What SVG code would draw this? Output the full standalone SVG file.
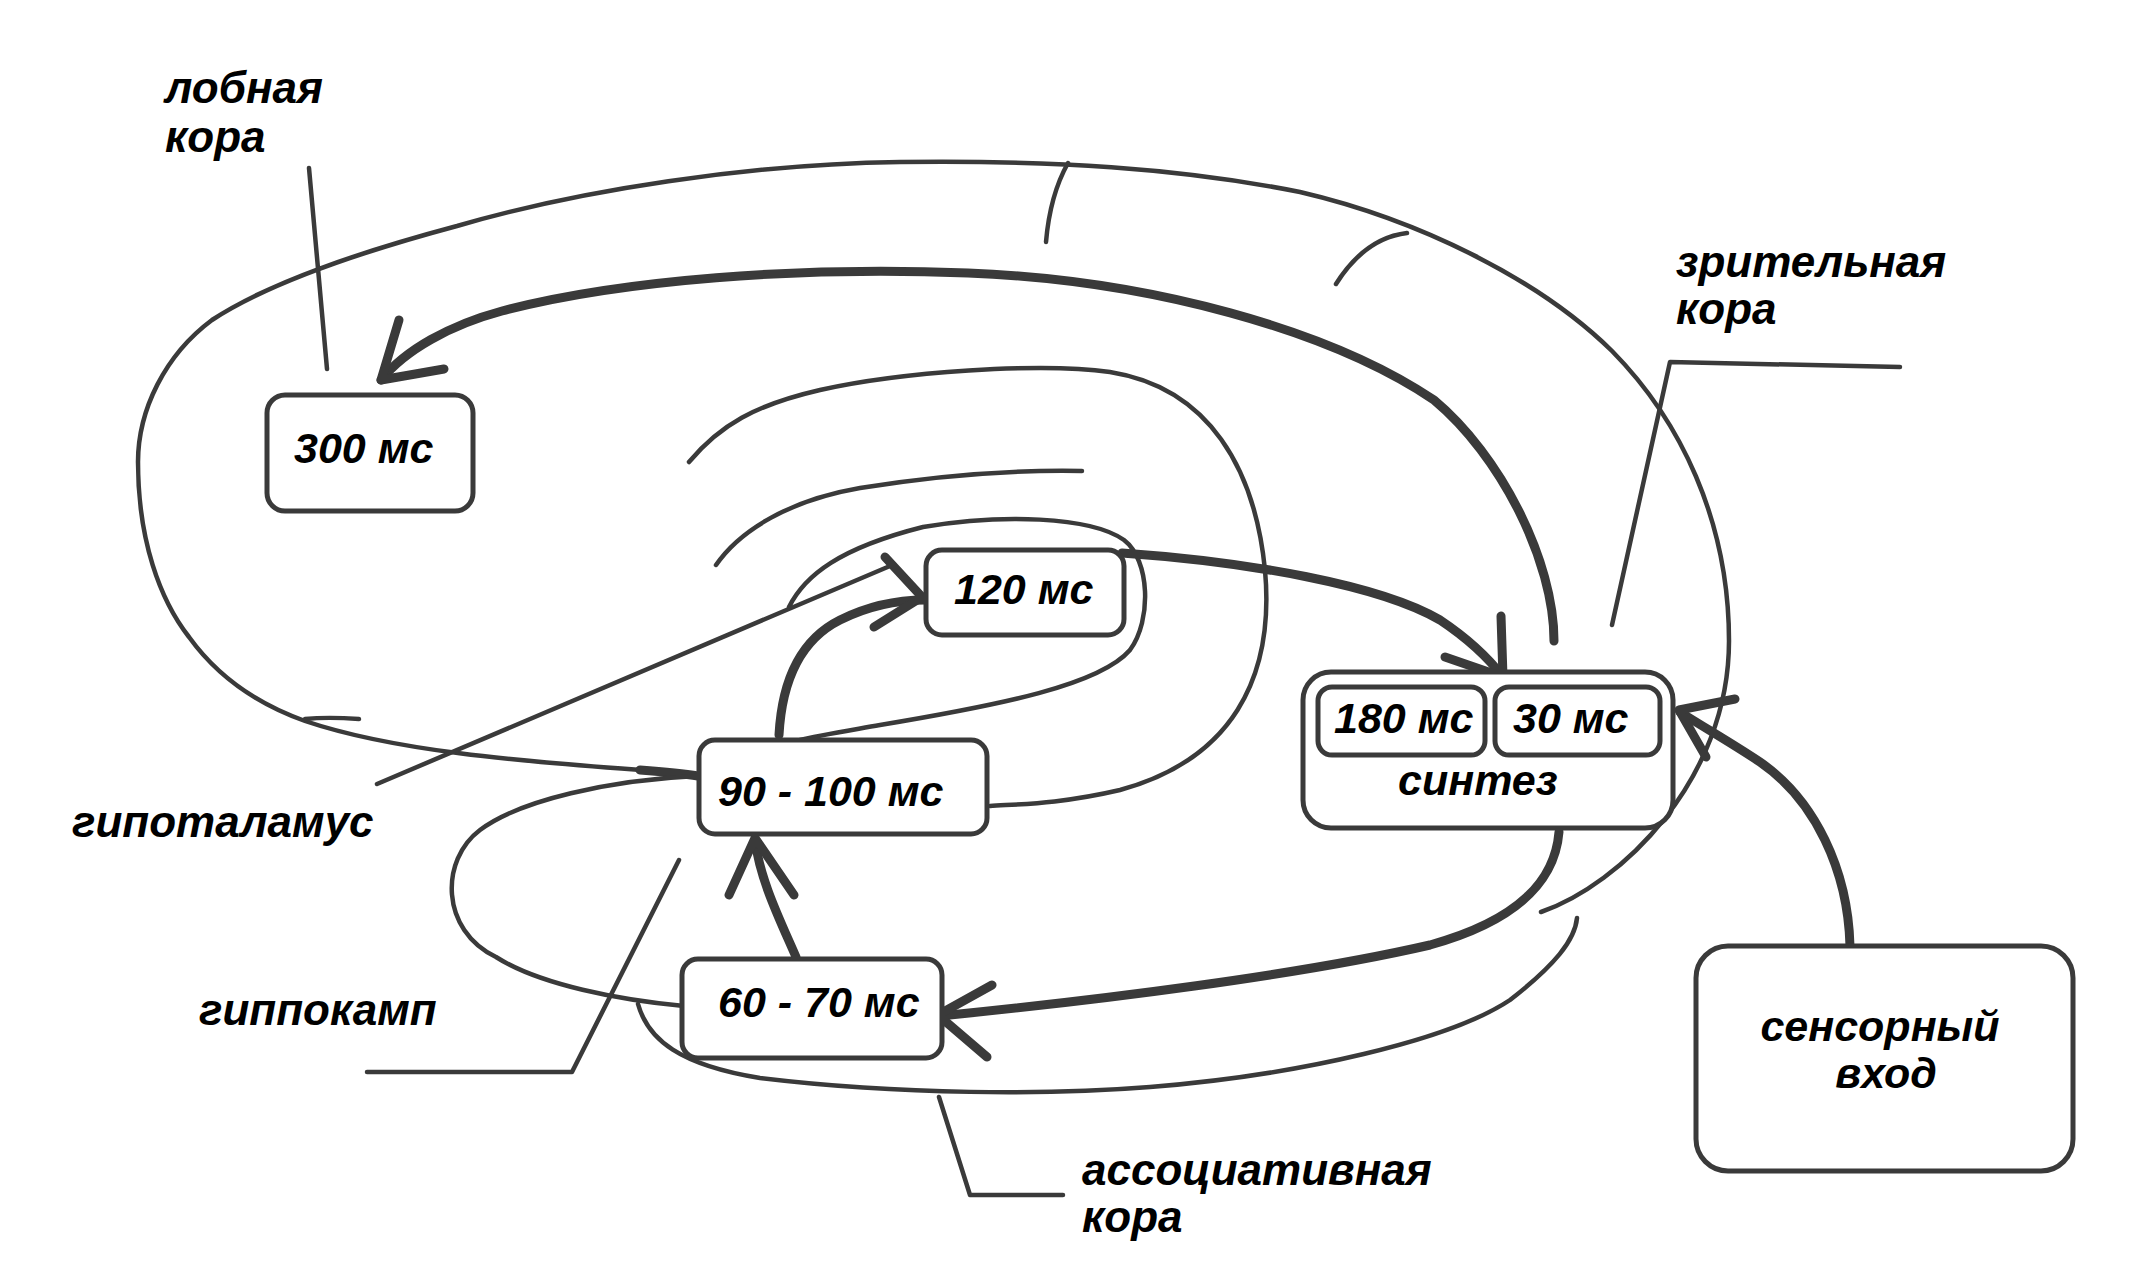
<svg xmlns="http://www.w3.org/2000/svg" width="2149" height="1285" viewBox="0 0 2149 1285">
<style>
.bg{fill:#ffffff}
.box{fill:#ffffff;stroke:#3a3a3a;stroke-width:5}
.thin{fill:none;stroke:#3a3a3a;stroke-width:4.5;stroke-linecap:round;stroke-linejoin:round}
.thick{fill:none;stroke:#3a3a3a;stroke-width:9;stroke-linecap:round;stroke-linejoin:round}
.t{font-family:"Liberation Sans",Arial,sans-serif;font-weight:bold;font-style:italic;fill:#000000}
.bt{font-size:43px}
.lt{font-size:44px}
</style>
<rect class="bg" x="0" y="0" width="2149" height="1285"/>
<g id="connectors">
  <!-- outer brain outline -->
  <path class="thin" d="M1541,912 C1620,885 1729,780 1729,641 C1729,520 1680,420 1612,351 C1540,280 1420,220 1300,192 C1180,168 1050,160 900,162 C750,164 580,190 457,226 C360,252 270,282 212,320 C165,355 138,410 138,462 C138,540 160,600 189,637 C220,680 260,705 305,721 C420,760 600,765 698,775"/>
  <path class="thin" d="M305,719 C325,717 345,718 359,719"/>
  <path class="thick" d="M640,770 C665,772 685,774 698,776"/>
  <!-- small branches on top -->
  <path class="thin" d="M1068,163 Q1050,195 1046,242"/>
  <path class="thin" d="M1407,233 Q1365,238 1336,284"/>
  <!-- inner arcs -->
  <path class="thin" d="M689,462 C720,425 755,405 820,390 C900,372 1040,362 1110,372 C1210,388 1255,470 1265,570 C1275,680 1230,760 1120,790 C1060,804 1020,804 990,806"/>
  <path class="thin" d="M716,565 C740,530 790,500 860,488 C960,472 1030,470 1082,471"/>
  <path class="thin" d="M789,607 C805,575 840,548 923,527 C1000,514 1090,516 1124,540 C1150,560 1152,620 1130,650 C1100,685 1000,705 880,725 C840,732 815,736 800,740"/>
  <!-- hippocampus loop -->
  <path class="thin" d="M697,776 C610,780 520,800 480,830 C440,860 440,930 496,957 C540,985 620,1000 684,1006"/>
  <!-- association cortex arc -->
  <path class="thin" d="M638,1004 C648,1040 680,1065 760,1078 C900,1095 1050,1095 1150,1087 C1300,1075 1450,1040 1510,1000 C1555,965 1575,940 1577,918"/>
  <!-- label pointers -->
  <path class="thin" d="M309,168 L327,369"/>
  <path class="thin" d="M1900,367 L1670,362 L1612,625"/>
  <path class="thin" d="M377,784 L890,566"/>
  <path class="thin" d="M367,1072 L572,1072 L679,860"/>
  <path class="thin" d="M939,1097 L970,1195 L1063,1195"/>
  <!-- thick arrows -->
  <path class="thick" d="M1554,641 C1554,560 1500,455 1434,400 C1330,330 1150,280 968,273 C800,266 620,280 502,311 C450,325 405,350 381,380"/>
  <path class="thick" d="M399,320 L381,380 L444,369"/>
  <path class="thick" d="M1122,553 C1250,562 1380,585 1440,620 C1470,640 1490,660 1503,677"/>
  <path class="thick" d="M1501,616 L1503,677 L1445,657"/>
  <path class="thick" d="M1850,946 C1848,870 1815,800 1760,762 C1730,742 1700,725 1680,712"/>
  <path class="thick" d="M1735,699 L1679,710 L1706,757"/>
  <path class="thick" d="M1559,832 C1555,880 1520,920 1430,945 C1300,975 1100,1000 940,1016"/>
  <path class="thick" d="M992,985 L938,1015 L987,1057"/>
  <path class="thick" d="M796,957 C780,920 760,880 755,840"/>
  <path class="thick" d="M729,895 L755,838 L794,895"/>
  <path class="thick" d="M779,735 C782,680 800,640 840,620 C870,605 900,600 925,600"/>
  <path class="thick" d="M885,557 L922,597 L874,627"/>
</g>
<g id="node-300">
  <rect class="box" x="267" y="395" width="206" height="116" rx="18"/>
  <text class="t bt" x="294" y="463">300 мс</text>
</g>
<g id="node-120">
  <rect class="box" x="926" y="550" width="198" height="85" rx="16"/>
  <text class="t bt" x="954" y="604">120 мс</text>
</g>
<g id="node-90-100">
  <rect class="box" x="699" y="740" width="288" height="94" rx="16"/>
  <text class="t bt" x="718" y="806">90 - 100 мс</text>
</g>
<g id="node-60-70">
  <rect class="box" x="682" y="959" width="260" height="99" rx="16"/>
  <text class="t bt" x="718" y="1017">60 - 70 мс</text>
</g>
<g id="node-synthesis">
  <rect class="box" x="1303" y="672" width="370" height="156" rx="28"/>
  <rect class="box" x="1318" y="687" width="167" height="68" rx="14"/>
  <rect class="box" x="1495" y="687" width="165" height="68" rx="14"/>
  <text class="t bt" x="1334" y="733">180 мс</text>
  <text class="t bt" x="1513" y="733">30 мс</text>
  <text class="t bt" x="1398" y="795">синтез</text>
</g>
<g id="node-sensory">
  <rect class="box" x="1696" y="946" width="377" height="225" rx="32"/>
  <text class="t bt" x="1880" y="1041" text-anchor="middle">сенсорный</text>
  <text class="t bt" x="1886" y="1088" text-anchor="middle">вход</text>
</g>
<g id="label-frontal">
  <text class="t lt" x="165" y="103">лобная</text>
  <text class="t lt" x="165" y="152">кора</text>
</g>
<g id="label-visual">
  <text class="t lt" x="1676" y="277">зрительная</text>
  <text class="t lt" x="1676" y="324">кора</text>
</g>
<g id="label-hypothalamus">
  <text class="t lt" x="72" y="837">гипоталамус</text>
</g>
<g id="label-hippocampus">
  <text class="t lt" x="199" y="1025">гиппокамп</text>
</g>
<g id="label-association">
  <text class="t lt" x="1082" y="1185">ассоциативная</text>
  <text class="t lt" x="1082" y="1232">кора</text>
</g>
</svg>
